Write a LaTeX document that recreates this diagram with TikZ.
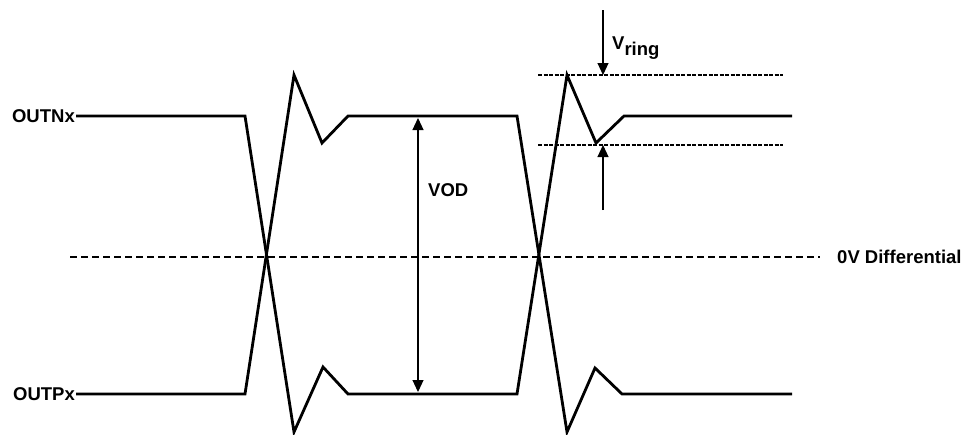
\documentclass[tikz,border=0pt]{standalone}
\usepackage{fontspec}
\setmainfont{Liberation Sans}
\usetikzlibrary{arrows.meta}

\begin{document}
\begin{tikzpicture}[x=1pt,y=-1pt,
  every node/.style={font=\fontsize{18.5}{22}\selectfont\bfseries,inner sep=1pt},
  sig/.style={line width=2.8pt,line join=miter},
  zeroline/.style={line width=2.8pt,dash pattern=on 7pt off 4pt},
  lvl/.style={line width=1.2pt,dash pattern=on 4pt off 1.5pt},
  dim/.style={line width=1.1pt,-{Triangle[length=12pt,width=11pt]}},
  dimboth/.style={line width=1.1pt,{Triangle[length=12pt,width=11pt]}-{Triangle[length=12pt,width=11pt]}}]
\useasboundingbox (0,0) rectangle (965,434);
% Signal names and the zero level.
\node[anchor=east] (outn) at (76,116) {OUTNx};
\node[anchor=east] (outp) at (76,394) {OUTPx};
\node[anchor=west] (zero) at (836,257) {0V Differential};
\coordinate (z0) at (70,257);
\coordinate (z1) at (820,257);
\draw[zeroline] (z0) -- (z1);
% The two outputs, with ringing after each edge.
\draw[sig] (outn.east) -- (245,116) -- (294,432) -- (323,367) -- (348,394)
  -- (517,394) -- (567,75) -- (596,143) -- (624,116) -- (792,116);
\draw[sig] (outp.east) -- (245,394) -- (294,75) -- (322,143) -- (348,116)
  -- (517,116) -- (567,432) -- (595,368) -- (622,394) -- (792,394);
% Output swing.
\coordinate (vodtop) at (418,118);
\coordinate (vodbot) at (418,392);
\draw[dimboth] (vodtop) -- (vodbot);
\node[anchor=west] (vod) at (427,190) {VOD};
% Ringing band.
\draw[lvl] (538,75) -- (783,75);
\draw[lvl] (538,145) -- (783,145);
\coordinate (rtop) at (603,10);
\coordinate (rhi) at (603,75);
\coordinate (rbot) at (603,210);
\coordinate (rlo) at (603,145);
\draw[dim] (rtop) -- (rhi);
\draw[dim] (rbot) -- (rlo);
\node[anchor=west] (vring) at (611,48) {V\raisebox{-6pt}{ring}};
\end{tikzpicture}
\end{document}
